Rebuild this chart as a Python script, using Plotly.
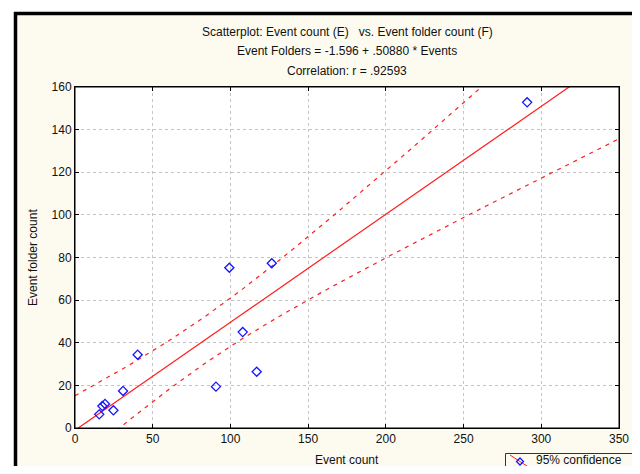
import numpy as np
import plotly.graph_objects as go

# Data
events = [15.6, 17.6, 19.3, 24.7, 30.9, 40.3, 90.7, 99.3, 107.9, 116.9, 126.6, 290.9]
folders = [6.4, 10.3, 11.3, 8.3, 17.4, 34.4, 19.4, 75.2, 45.0, 26.4, 77.3, 152.8]

title_lines = [
    "Scatterplot: Event count (E)   vs. Event folder count (F)",
    "Event Folders = -1.596 + .50880 * Events",
    "Correlation: r = .92593",
]
x_title = "Event count"
y_title = "Event folder count"
legend_label = "95% confidence"
x_ticks = [0, 50, 100, 150, 200, 250, 300, 350]
y_ticks = [0, 20, 40, 60, 80, 100, 120, 140, 160]

# Regression and 95% confidence band (computed from the data)
x = np.array(events)
y = np.array(folders)
n = len(x)
b1, b0 = np.polyfit(x, y, 1)
resid = y - (b0 + b1 * x)
s = np.sqrt(np.sum(resid ** 2) / (n - 2))
sxx = np.sum((x - x.mean()) ** 2)
t_crit = 2.228  # t(0.975, df=10)
xs = np.linspace(0, 350, 200)
yhat = b0 + b1 * xs
half = t_crit * s * np.sqrt(1.0 / n + (xs - x.mean()) ** 2 / sxx)

RED = "rgb(255,30,30)"
BLUE = "rgb(20,20,255)"
fig = go.Figure()
fig.add_trace(go.Scatter(x=xs, y=yhat, mode="lines", line=dict(color=RED, width=1.2),
                         showlegend=False, hoverinfo="skip"))
for band in (yhat + half, yhat - half):
    fig.add_trace(go.Scatter(x=xs, y=band, mode="lines",
                             line=dict(color=RED, width=1.2, dash="4px,5px"),
                             showlegend=False, hoverinfo="skip"))
fig.add_trace(go.Scatter(x=events, y=folders, mode="markers", name=legend_label,
                         marker=dict(symbol="diamond-open", size=7, color=BLUE,
                                     line=dict(width=1.3, color=BLUE)),
                         showlegend=False))

FONT = "Liberation Sans, Arial, sans-serif"
OFF = 8  # page body margin in the browser
W, H = 640 - OFF, 474 - 2 * OFF
# plot area in reference (screen) pixels
PL, PR, PT, PB = 75, 619, 87, 428
L, T = PL - OFF, PT - OFF
pw, ph = PR - PL, PB - PT
R, B = W - L - pw, H - T - ph

def px2x(px):
    return (px - PL) / pw

def py2y(py):
    return (PB - py) / ph

annotations = []
for txt, py in zip(title_lines, [32, 51, 71]):
    annotations.append(dict(text=txt, xref="paper", yref="paper", x=px2x(347), y=py2y(py),
                            showarrow=False, font=dict(family=FONT, size=12, color="#111"),
                            xanchor="center", yanchor="middle"))
annotations.append(dict(text=x_title, xref="paper", yref="paper", x=px2x(347), y=py2y(460),
                        showarrow=False, font=dict(family=FONT, size=12, color="#111"),
                        xanchor="center", yanchor="middle"))
annotations.append(dict(text=y_title, xref="paper", yref="paper", x=px2x(33), y=py2y(258),
                        showarrow=False, textangle=-90, font=dict(family=FONT, size=12, color="#111"),
                        xanchor="center", yanchor="middle"))
# legend text
annotations.append(dict(text=legend_label, xref="paper", yref="paper", x=px2x(534), y=py2y(459.5),
                        showarrow=False, font=dict(family=FONT, size=12, color="#111"),
                        xanchor="left", yanchor="middle"))

CREAM = "#FDFBEF"
shapes = [
    # white outside the frame
    dict(type="rect", xref="paper", yref="paper", x0=px2x(-5), x1=px2x(660), y0=py2y(13), y1=py2y(-5),
         fillcolor="white", line=dict(width=0), layer="below"),
    dict(type="rect", xref="paper", yref="paper", x0=px2x(-5), x1=px2x(14), y0=py2y(490), y1=py2y(-5),
         fillcolor="white", line=dict(width=0), layer="below"),
    # black frame
    dict(type="line", xref="paper", yref="paper", x0=px2x(14), x1=px2x(640), y0=py2y(13.5), y1=py2y(13.5),
         line=dict(color="black", width=3.5)),
    dict(type="line", xref="paper", yref="paper", x0=px2x(15.5), x1=px2x(15.5), y0=py2y(12), y1=py2y(490),
         line=dict(color="black", width=3.5)),
    dict(type="line", xref="paper", yref="paper", x0=px2x(637.5), x1=px2x(637.5), y0=py2y(12), y1=py2y(490),
         line=dict(color="black", width=5)),
    # plot box
    dict(type="rect", xref="paper", yref="paper", x0=0, x1=1, y0=0, y1=1,
         line=dict(color="black", width=1)),
    # legend box
    dict(type="rect", xref="paper", yref="paper", x0=px2x(505.5), x1=px2x(633), y0=py2y(453.5), y1=py2y(490),
         fillcolor=CREAM, line=dict(color="#333", width=1)),
    # legend glyph: red line and blue diamond
    dict(type="line", xref="paper", yref="paper", x0=px2x(510), x1=px2x(530), y0=py2y(455), y1=py2y(468),
         line=dict(color=RED, width=1)),
    dict(type="path", xref="paper", yref="paper",
         path="M {0} {1} L {2} {3} L {0} {4} L {5} {3} Z".format(
             px2x(520), py2y(458), px2x(523.5), py2y(461.5), py2y(465), px2x(516.5)),
         line=dict(color=BLUE, width=1.3)),
]

fig.update_layout(
    width=W, height=H,
    margin=dict(l=L, r=R, t=T, b=B, autoexpand=False),
    paper_bgcolor=CREAM, plot_bgcolor="white",
    font=dict(family=FONT, size=12, color="#111"),
    annotations=annotations, shapes=shapes,
    showlegend=False,
    xaxis=dict(range=[0, 350], tickvals=x_ticks, ticks="inside", ticklen=4, tickcolor="black",
               showline=True, linecolor="black", mirror="ticks", zeroline=False, automargin=False,
               showgrid=True, gridcolor="#c4c4c4", griddash="dot", gridwidth=1,
               tickfont=dict(size=12)),
    yaxis=dict(range=[0, 160], tickvals=y_ticks, ticks="inside", ticklen=4, tickcolor="black",
               showline=True, linecolor="black", mirror="ticks", zeroline=False, automargin=False,
               showgrid=True, gridcolor="#c4c4c4", griddash="dot", gridwidth=1,
               tickfont=dict(size=12)),
)

fig.write_html("out.html")
